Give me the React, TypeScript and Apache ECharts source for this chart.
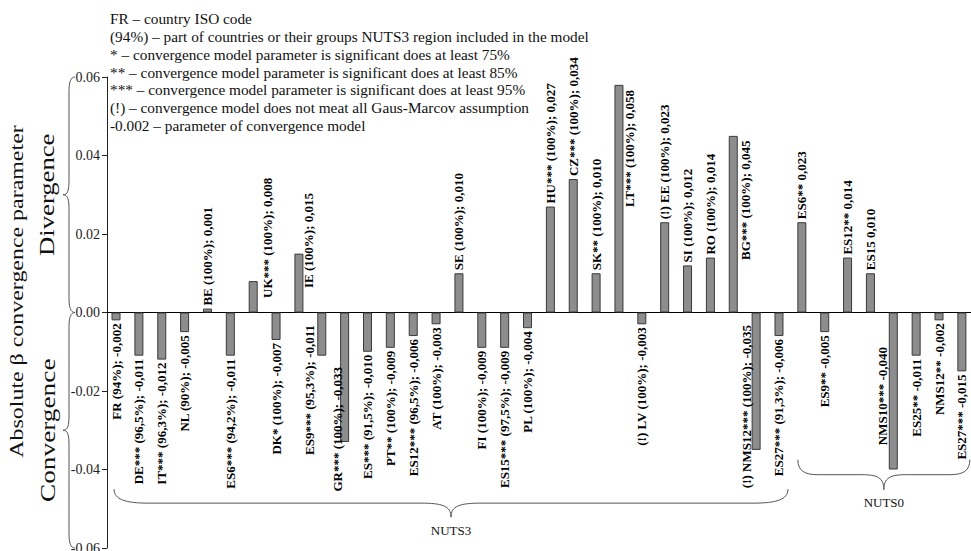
import React, { useEffect, useRef } from "react";
import * as echarts from "echarts";

// ---- data ----
const codes = [
  "FR", "DE***", "IT***", "NL", "BE", "ES6***", "UK***", "DK*", "IE", "ES9***",
  "GR***", "ES***", "PT**", "ES12***", "AT", "SE", "FI", "ES15***", "PL", "HU***",
  "CZ***", "SK**", "LT***", "(!) LV", "(!) EE", "SI", "RO", "BG***", "(!) NMS12***", "ES27***",
  "ES6**", "ES9**", "ES12**", "ES15", "NMS10***", "ES25**", "NMS12**", "ES27***",
];
const shares = [
  "94%", "96,5%", "96,3%", "90%", "100%", "94,2%", "100%", "100%", "100%", "95,3%",
  "100%", "91,5%", "100%", "96,5%", "100%", "100%", "100%", "97,5%", "100%", "100%",
  "100%", "100%", "100%", "100%", "100%", "100%", "100%", "100%", "100%", "91,3%",
  null, null, null, null, null, null, null, null,
];
const values = [
  -0.002, -0.011, -0.012, -0.005, 0.001, -0.011, 0.008, -0.007, 0.015, -0.011,
  -0.033, -0.010, -0.009, -0.006, -0.003, 0.010, -0.009, -0.009, -0.004, 0.027,
  0.034, 0.010, 0.058, -0.003, 0.023, 0.012, 0.014, 0.045, -0.035, -0.006,
  0.023, -0.005, 0.014, 0.010, -0.040, -0.011, -0.002, -0.015,
];
const groups = [
  { name: "NUTS3", from: 0, to: 29 },
  { name: "NUTS0", from: 30, to: 37 },
];
const yMin = -0.06;
const yMax = 0.06;
const yStep = 0.02;
const yAxisTitle = "Absolute β convergence parameter";
const sideTitles = ["Divergence", "Convergence"];
const legendLines = [
  "FR – country ISO code",
  "(94%) – part of countries or their groups NUTS3 region included in the model",
  "* – convergence model parameter is significant does at least 75%",
  "** – convergence model parameter is significant does at least 85%",
  "*** – convergence model parameter is significant does at least 95%",
  "(!) – convergence model does not meat all Gaus-Marcov assumption",
  "-0.002 – parameter of convergence model",
];

// ---- label placement tweaks (style only): [dx px, distance from zero line px] ----
const labelNudge: Record<string, [number, number]> = {
  "UK***": [14, 14.5],
  "IE": [9.5, 24.5],
  "LT***": [11, 105.5],
  "BG***": [12, 52.5],
  "ES9***": [-12, 12.5],
  "GR***": [-7.5, 54.5],
  "(!) NMS12***": [-9.5, 12.5],
  "NMS10***": [-11, 34.5],
};

const SERIF = '"Liberation Serif", "Times New Roman", serif';
const fmt = (v: number) => v.toFixed(3).replace(".", ",");
const labels = codes.map((c, i) =>
  shares[i] ? `${c} (${shares[i]}); ${fmt(values[i])}` : `${c} ${fmt(values[i])}`
);

function braceElems(
  map: (u: number, v: number) => [number, number],
  len: number,
  d: number,
  rEnd: number,
  rTip: number
) {
  const els: any[] = [];
  const style = { stroke: "#555", fill: "none", lineWidth: 1 };
  const bez = (p0: number[], c1: number[], c2: number[], p1: number[]) => {
    const a = map(p0[0], p0[1]);
    const b = map(c1[0], c1[1]);
    const c = map(c2[0], c2[1]);
    const e = map(p1[0], p1[1]);
    els.push({
      type: "bezierCurve",
      silent: true,
      shape: { x1: a[0], y1: a[1], cpx1: b[0], cpy1: b[1], cpx2: c[0], cpy2: c[1], x2: e[0], y2: e[1] },
      style,
    });
  };
  const line = (p0: number[], p1: number[]) => {
    const a = map(p0[0], p0[1]);
    const e = map(p1[0], p1[1]);
    els.push({ type: "line", silent: true, shape: { x1: a[0], y1: a[1], x2: e[0], y2: e[1] }, style });
  };
  const m = len / 2;
  bez([0, 0], [0, d * 0.75], [rEnd * 0.35, d], [rEnd, d]);
  line([rEnd, d], [m - rTip, d]);
  bez([m - rTip, d], [m - rTip * 0.3, d], [m, d * 1.2], [m, 2 * d]);
  bez([len, 0], [len, d * 0.75], [len - rEnd * 0.35, d], [len - rEnd, d]);
  line([len - rEnd, d], [m + rTip, d]);
  bez([m + rTip, d], [m + rTip * 0.3, d], [m, d * 1.2], [m, 2 * d]);
  return els;
}

export default function App() {
  const ref = useRef<HTMLDivElement>(null);

  useEffect(() => {
    document.body.style.margin = "0";
    const chart = echarts.init(ref.current!, null, { renderer: "svg", width: 971, height: 551 });

    const option: any = {
      animation: false,
      backgroundColor: "#ffffff",
      grid: { left: 104.6, top: 77, width: 868.7, height: 471, outerBoundsMode: "none", containLabel: false },
      xAxis: {
        type: "category",
        data: labels,
        boundaryGap: true,
        axisLine: { show: true, onZero: true, lineStyle: { color: "#000", width: 1 } },
        axisTick: { show: false },
        axisLabel: { show: false },
        splitLine: { show: false },
      },
      yAxis: {
        type: "value",
        min: yMin,
        max: yMax,
        interval: yStep,
        offset: -2.4,
        axisLine: { show: true, lineStyle: { color: "#222", width: 1 } },
        axisTick: { show: true, inside: false, length: 5, lineStyle: { color: "#222" } },
        axisLabel: {
          margin: 7,
          color: "#222",
          fontFamily: SERIF,
          fontSize: 14,
          formatter: (v: number) => (Math.abs(v) < 1e-9 ? "0.00" : v.toFixed(2)),
        },
        splitLine: { show: false },
      },
      series: [
        {
          type: "bar",
          data: values,
          barWidth: 9,
          itemStyle: { color: "#8d8d8d", borderColor: "#3a3a3a", borderWidth: 1 },
          silent: true,
        },
        {
          type: "custom",
          silent: true,
          z: 10,
          data: values.map((v, i) => [i, v]),
          renderItem: (_params: any, api: any) => {
            const i = api.value(0) as number;
            const v = api.value(1) as number;
            const pt = api.coord([i, v]);
            const zero = api.coord([i, 0]);
            const pos = v >= 0;
            const nudge = labelNudge[codes[i]];
            let x = pt[0];
            let y: number;
            if (nudge) {
              x = pt[0] + nudge[0];
              y = pos ? zero[1] - nudge[1] : zero[1] + nudge[1];
            } else {
              y = pos ? pt[1] - 3 : pt[1] + 3;
            }
            return {
              type: "text",
              x,
              y,
              rotation: Math.PI / 2,
              style: {
                text: labels[i],
                font: `bold 13px ${SERIF}`,
                fill: "#000",
                align: pos ? "left" : "right",
                verticalAlign: "middle",
                textAlign: pos ? "left" : "right",
                textVerticalAlign: "middle",
              },
            };
          },
        },
      ],
    };
    chart.setOption(option);

    const px = (i: number) => chart.convertToPixel({ xAxisIndex: 0 }, i) as number;
    const py = (v: number) => chart.convertToPixel({ yAxisIndex: 0 }, v) as number;

    const g: any[] = [];
    // legend lines
    legendLines.forEach((t, k) => {
      g.push({
        type: "text",
        x: 110,
        y: 18.3 + 17.9 * k,
        silent: true,
        style: {
          text: t,
          font: `15.3px ${SERIF}`,
          fill: "#111",
          align: "left",
          verticalAlign: "middle",
          textAlign: "left",
          textVerticalAlign: "middle",
        },
      });
    });

    // axis titles
    const yTop = py(yMax);
    const yZero = py(0);
    const yBot = py(yMin);
    const vText = (text: string, x: number, y: number, size: number, sx: number) => ({
      type: "text",
      x,
      y,
      rotation: Math.PI / 2,
      scaleX: sx,
      silent: true,
      style: {
        text,
        font: `${size}px ${SERIF}`,
        fill: "#111",
        align: "center",
        verticalAlign: "middle",
        textAlign: "center",
        textVerticalAlign: "middle",
      },
    });
    g.push(vText(yAxisTitle, 17, (yTop + yBot) / 2 - 21, 18, 1.33));
    g.push(vText(sideTitles[0], 47.5, (yTop + yZero) / 2, 21, 1.27));
    g.push(vText(sideTitles[1], 47.5, (yZero + yBot) / 2, 21, 1.3));

    // vertical braces (tip to the left)
    const vBrace = (ya: number, yb: number) =>
      braceElems((u, v) => [75 - v, ya + u], yb - ya, 6, 15, 15);
    g.push(...vBrace(yTop, yZero));
    g.push(...vBrace(yZero, yBot));

    // horizontal group braces (tip downward) + names
    const braceSpec = [
      { x1: px(groups[0].from) - 2, x2: px(groups[0].to) + 9, ya: py(-0.045), d: 14, rEnd: 34, rTip: 30 },
      { x1: px(groups[1].from) - 4, x2: px(groups[1].to) + 8, ya: py(-0.0375), d: 15, rEnd: 20, rTip: 22 },
    ];
    braceSpec.forEach((b, k) => {
      g.push(...braceElems((u, v) => [b.x1 + u, b.ya + v], b.x2 - b.x1, b.d, b.rEnd, b.rTip));
      g.push({
        type: "text",
        x: (b.x1 + b.x2) / 2,
        y: b.ya + 2 * b.d + 13,
        silent: true,
        style: {
          text: groups[k].name,
          font: `13px ${SERIF}`,
          fill: "#111",
          align: "center",
          verticalAlign: "middle",
          textAlign: "center",
          textVerticalAlign: "middle",
        },
      });
    });

    chart.setOption({ graphic: g });

    return () => chart.dispose();
  }, []);

  return <div ref={ref} style={{ width: 971, height: 551 }} />;
}
